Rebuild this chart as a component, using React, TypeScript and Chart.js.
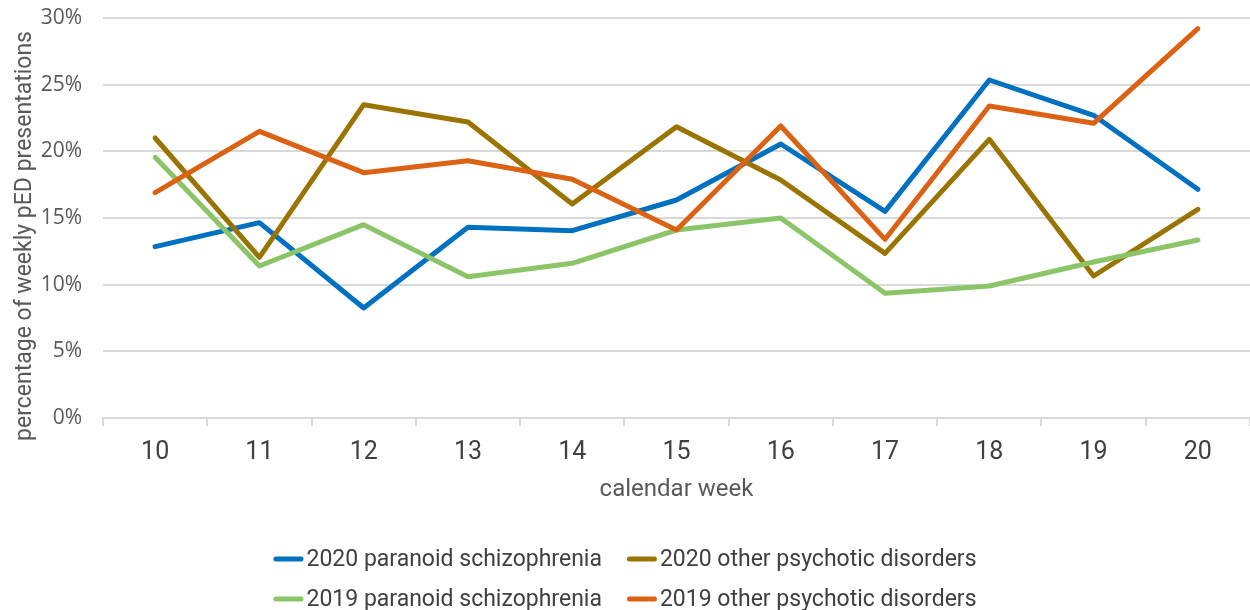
import React, { useEffect, useRef } from "react";
import { Chart, registerables } from "chart.js";

Chart.register(...registerables);

const weeks = ["10", "11", "12", "13", "14", "15", "16", "17", "18", "19", "20"];
const paranoid2020 = [12.85, 14.65, 8.25, 14.3, 14.05, 16.35, 20.55, 15.5, 25.35, 22.7, 17.15];
const other2020 = [21.0, 12.05, 23.5, 22.2, 16.05, 21.85, 17.85, 12.35, 20.9, 10.65, 15.65];
const paranoid2019 = [19.55, 11.4, 14.5, 10.6, 11.6, 14.1, 15.0, 9.35, 9.9, 11.7, 13.35];
const other2019 = [16.9, 21.5, 18.4, 19.3, 17.9, 14.1, 21.9, 13.4, 23.4, 22.1, 29.2];
const seriesNames = [
  "2020 paranoid schizophrenia",
  "2020 other psychotic disorders",
  "2019 paranoid schizophrenia",
  "2019 other psychotic disorders",
];
const seriesColors = ["#0070C0", "#9A7400", "#8CC568", "#DC6213"];
const yTitle = "percentage of weekly pED presentations";
const xTitle = "calendar week";
const yMin = 0;
const yMax = 30;
const yStep = 5;

const LEGEND_FONT = "23px Roboto, sans-serif";

const extrasPlugin = {
  id: "extras",
  afterDraw(chart: any) {
    const ctx = chart.ctx as CanvasRenderingContext2D;
    const W = chart.width;
    const H = chart.height;
    // y-axis title
    ctx.save();
    ctx.font = "23px Roboto, sans-serif";
    ctx.fillStyle = "#595959";
    ctx.textAlign = "center";
    ctx.textBaseline = "middle";
    ctx.translate(25, 236);
    ctx.rotate(-Math.PI / 2);
    ctx.fillText(yTitle, 0, 0);
    ctx.restore();

    // legend, 2 x 2 grid
    ctx.save();
    ctx.font = LEGEND_FONT;
    const lineLen = 30;
    const gapText = 3;
    const colGap = 25;
    const w = seriesNames.map((n) => ctx.measureText(n).width);
    const col1 = lineLen + gapText + Math.max(w[0], w[2]);
    const col2 = lineLen + gapText + Math.max(w[1], w[3]);
    const total = col1 + colGap + col2;
    const x0 = W / 2 - total / 2;
    const xs = [x0, x0 + col1 + colGap];
    const ys = [H - 51, H - 11];
    seriesNames.forEach((name, i) => {
      const cx = xs[i % 2];
      const cy = ys[Math.floor(i / 2)];
      ctx.strokeStyle = seriesColors[i];
      ctx.lineWidth = 5;
      ctx.lineCap = "round";
      ctx.beginPath();
      ctx.moveTo(cx + 2.5, cy);
      ctx.lineTo(cx + lineLen - 2.5, cy);
      ctx.stroke();
      ctx.fillStyle = "#404040";
      ctx.textAlign = "left";
      ctx.textBaseline = "middle";
      ctx.fillText(name, cx + lineLen + gapText, cy + 1);
    });
    ctx.restore();
  },
};

export default function App() {
  const ref = useRef<HTMLCanvasElement | null>(null);
  useEffect(() => {
    if (!ref.current) return;
    const values = [paranoid2020, other2020, paranoid2019, other2019];
    const chart = new Chart(ref.current, {
      type: "line",
      data: {
        labels: weeks,
        datasets: values.map((v, i) => ({
          label: seriesNames[i],
          data: v,
          borderColor: seriesColors[i],
          backgroundColor: seriesColors[i],
          borderWidth: 5,
          pointRadius: 0,
          pointHoverRadius: 0,
          tension: 0,
          borderJoinStyle: "round" as const,
          borderCapStyle: "round" as const,
          order: 4 - i,
        })),
      },
      plugins: [extrasPlugin],
      options: {
        animation: false,
        responsive: true,
        maintainAspectRatio: false,
        layout: { padding: { top: 18, right: 0, bottom: 83, left: 0 } },
        plugins: {
          tooltip: { enabled: false },
          legend: { display: false },
        },
        scales: {
          x: {
            offset: true,
            afterFit: (s: any) => {
              s.height = 109;
              s.paddingLeft = 0;
              s.paddingRight = 0;
            },
            grid: {
              offset: true,
              drawOnChartArea: false,
              drawTicks: true,
              tickLength: 8,
              color: "#d9d9d9",
              lineWidth: 2,
            },
            border: { display: true, color: "#d9d9d9", width: 2 },
            ticks: {
              color: "#404040",
              padding: 12,
              font: { family: "Roboto, sans-serif", size: 25 },
            },
            title: {
              display: true,
              text: xTitle,
              color: "#595959",
              padding: { top: 0, bottom: 23 },
              font: { family: "Roboto, sans-serif", size: 24 },
            },
          },
          y: {
            min: yMin,
            max: yMax,
            afterFit: (s: any) => {
              s.width = 103;
              s.paddingTop = 0;
              s.paddingBottom = 0;
            },
            grid: { color: "#d9d9d9", lineWidth: 2, drawTicks: false },
            border: { display: false },
            ticks: {
              stepSize: yStep,
              padding: 21,
              color: "#595959",
              font: { family: "'Open Sans', sans-serif", size: 21 },
              callback: (v: any) => v + "%",
            },
          },
        },
      },
    });
    return () => chart.destroy();
  }, []);
  return (
    <div style={{ position: "absolute", left: 0, top: 0, width: 1250, height: 610 }}>
      <canvas ref={ref} />
    </div>
  );
}
